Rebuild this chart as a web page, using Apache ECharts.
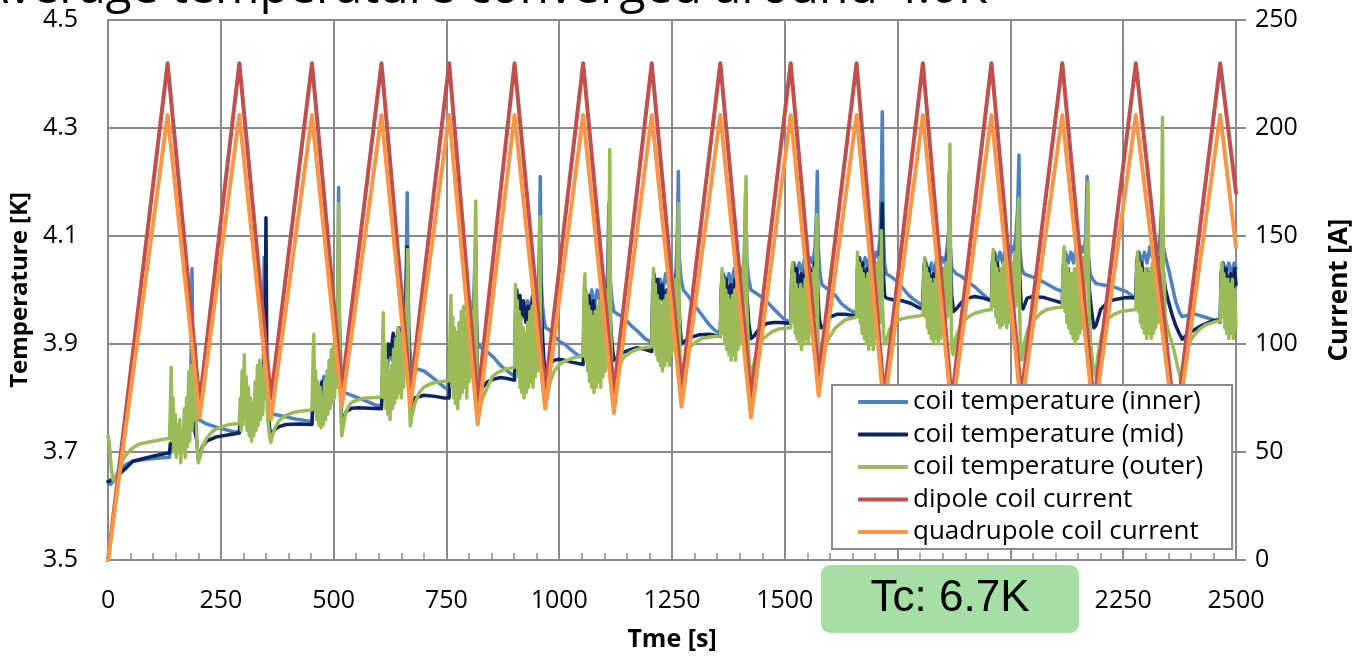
<!DOCTYPE html>
<html>
<head>
<meta charset="utf-8">
<script src="https://cdn.jsdelivr.net/npm/echarts@6/dist/echarts.min.js"></script>
<style>
html,body{margin:0;padding:0;background:#fff;}
#chart{width:1361px;height:657px;}
</style>
</head>
<body>
<div id="chart"></div>
<script>
// ---- axes ----
const timeMin = 0, timeMax = 2500, timeStep = 250;
const tempMin = 3.5, tempMax = 4.5;
const currMin = 0, currMax = 250, currStep = 50;

const seriesNames = ['coil temperature (inner)','coil temperature (mid)','coil temperature (outer)','dipole coil current','quadrupole coil current'];

// ---- temperatures [time s, K] ----
const innerTemp = [
[0,3.645],[5,3.64],[11,3.645],[26,3.668],[42,3.678],[55,3.683],[90,3.687],[126,3.69],[136,3.69],
[138,3.70],[145,3.71],[150,3.70],[158,3.72],[165,3.71],[172,3.73],[178,3.76],[183,3.80],[186,4.04],[189,3.82],[193,3.90],[197,3.80],[201,3.76],
[205,3.757],[218,3.752],[240,3.746],[275,3.738],[291,3.737],
[295,3.77],[300,3.76],[305,3.78],[310,3.77],[316,3.79],[322,3.78],[328,3.80],[334,3.79],[340,3.82],[344,3.84],[346,4.06],[348,3.86],[352,3.83],[356,3.79],[361,3.775],
[365,3.77],[379,3.768],[394,3.765],[410,3.762],[423,3.760],[440,3.758],[452,3.757],
[455,3.80],[460,3.79],[466,3.82],[472,3.80],[478,3.84],[484,3.82],[490,3.85],[496,3.83],[502,3.86],[506,3.88],[509,3.95],[511,4.19],[513,3.95],[516,3.86],[520,3.81],
[525,3.81],[540,3.805],[555,3.80],[570,3.795],[593,3.787],[606,3.785],
[609,3.84],[613,3.86],[618,3.85],[624,3.89],[630,3.87],[636,3.91],[642,3.90],[648,3.93],[653,3.92],[658,3.96],[661,4.05],[663,4.18],[665,4.00],[668,3.90],[672,3.86],
[680,3.855],[700,3.85],[716,3.84],[731,3.83],[745,3.82],[756,3.815],
[759,3.87],[764,3.90],[770,3.88],[776,3.92],[782,3.90],[788,3.93],[794,3.91],[800,3.95],[806,3.93],[810,3.97],[813,4.05],[816,3.95],[819,3.90],
[824,3.895],[841,3.885],[855,3.875],[870,3.86],[885,3.85],[901,3.84],
[903,3.93],[907,3.96],[912,3.94],[918,3.97],[924,3.95],[930,3.98],[936,3.96],[942,3.98],[948,3.97],[953,4.0],[956,4.08],[958,4.21],[960,4.02],[963,3.97],[967,3.94],[970,3.93],
[980,3.925],[989,3.915],[1000,3.905],[1011,3.90],[1025,3.89],[1040,3.88],[1053,3.875],
[1056,3.96],[1060,3.99],[1066,3.97],[1072,4.0],[1078,3.97],[1084,4.0],[1090,3.98],[1096,4.01],[1102,3.99],[1107,4.03],[1110,4.16],[1113,4.02],[1117,3.98],[1121,3.96],
[1130,3.955],[1143,3.95],[1158,3.935],[1172,3.925],[1190,3.91],[1205,3.903],
[1208,4.0],[1212,4.02],[1218,4.0],[1224,4.02],[1230,4.0],[1236,4.03],[1242,4.01],[1248,4.02],[1254,4.0],[1259,4.04],[1262,4.12],[1264,4.22],[1266,4.06],[1270,4.02],[1275,4.0],
[1285,3.99],[1297,3.975],[1315,3.955],[1333,3.935],[1345,3.925],[1357,3.92],
[1360,4.0],[1364,4.03],[1370,4.01],[1376,4.03],[1382,4.01],[1388,4.04],[1394,4.02],[1400,4.04],[1406,4.03],[1410,4.06],[1413,4.18],[1416,4.05],[1420,4.02],[1425,4.0],
[1435,3.995],[1452,3.985],[1470,3.97],[1487,3.955],[1500,3.945],[1513,3.94],
[1516,4.02],[1520,4.05],[1526,4.03],[1532,4.05],[1538,4.03],[1544,4.06],[1550,4.04],[1556,4.06],[1562,4.05],[1567,4.08],[1570,4.14],[1572,4.22],[1574,4.08],[1578,4.03],[1582,4.01],
[1597,4.0],[1612,3.99],[1625,3.975],[1640,3.965],[1650,3.96],[1659,3.958],
[1662,4.04],[1666,4.06],[1672,4.04],[1678,4.06],[1684,4.04],[1690,4.07],[1696,4.05],[1702,4.07],[1707,4.06],[1711,4.10],[1714,4.20],[1716,4.33],[1718,4.12],[1721,4.05],[1725,4.03],
[1735,4.025],[1750,4.015],[1760,4.005],[1775,3.99],[1785,3.983],[1795,3.977],[1806,3.972],
[1809,4.04],[1813,4.05],[1819,4.03],[1825,4.05],[1831,4.03],[1837,4.06],[1843,4.04],[1849,4.06],[1855,4.05],[1860,4.08],[1864,4.12],[1867,4.08],[1870,4.04],
[1880,4.03],[1892,4.025],[1905,4.015],[1921,4.006],[1935,3.995],[1949,3.985],[1958,3.98],
[1961,4.05],[1965,4.07],[1971,4.05],[1977,4.07],[1983,4.05],[1989,4.08],[1995,4.06],[2001,4.08],[2007,4.07],[2012,4.10],[2016,4.15],[2019,4.25],[2021,4.08],[2025,4.04],[2030,4.03],
[2046,4.025],[2060,4.02],[2075,4.014],[2090,4.007],[2103,4.001],[2115,3.997],
[2118,4.05],[2122,4.07],[2128,4.05],[2134,4.07],[2140,4.05],[2146,4.08],[2152,4.06],[2158,4.08],[2163,4.07],[2167,4.10],[2170,4.21],[2173,4.06],[2177,4.03],[2182,4.02],[2190,4.012],
[2200,4.01],[2229,4.006],[2257,3.997],[2272,3.988],[2278,3.985],
[2281,4.05],[2285,4.07],[2291,4.05],[2297,4.07],[2303,4.05],[2309,4.08],[2315,4.06],[2321,4.08],[2327,4.07],[2332,4.10],[2336,4.17],[2339,4.08],[2344,4.06],[2350,4.04],[2358,4.01],[2366,3.98],[2374,3.96],[2380,3.951],
[2395,3.953],[2412,3.955],[2430,3.95],[2449,3.945],[2465,3.94],
[2468,4.02],[2472,4.05],[2478,4.03],[2484,4.05],[2490,4.03],[2496,4.05],[2500,4.04]
];

const midTemp = [
[0,3.645],[11,3.65],[26,3.66],[42,3.672],[55,3.683],[99,3.692],[126,3.697],[136,3.698],
[138,3.715],[145,3.72],[152,3.705],[160,3.73],[168,3.715],[175,3.74],[182,3.75],[188,3.78],[192,3.74],[197,3.72],[200,3.685],
[203,3.69],[209,3.71],[218,3.72],[240,3.728],[275,3.733],[291,3.735],
[293,3.765],[298,3.775],[304,3.765],[310,3.78],[316,3.77],[322,3.79],[328,3.785],[334,3.80],[340,3.81],[345,3.83],[348,3.90],[350,4.134],[352,3.85],[355,3.78],[358,3.745],[361,3.728],
[364,3.735],[370,3.742],[379,3.747],[394,3.751],[423,3.752],[452,3.751],
[454,3.80],[458,3.79],[463,3.82],[468,3.80],[474,3.83],[480,3.81],[486,3.84],[492,3.82],[498,3.85],[504,3.83],[508,3.87],[511,3.95],[513,3.88],[516,3.80],[518,3.75],
[521,3.76],[528,3.775],[540,3.781],[555,3.782],[580,3.781],[606,3.78],
[608,3.83],[612,3.87],[616,3.85],[621,3.90],[626,3.88],[632,3.92],[638,3.89],[644,3.93],[650,3.90],[656,3.94],[660,3.97],[663,4.08],[665,3.95],[668,3.84],[670,3.78],
[673,3.79],[680,3.80],[700,3.805],[725,3.803],[745,3.80],[756,3.80],
[758,3.86],[762,3.90],[767,3.88],[772,3.92],[778,3.89],[784,3.93],[790,3.90],[796,3.94],[802,3.91],[808,3.95],[812,3.98],[815,4.09],[817,3.92],[819,3.80],
[822,3.805],[830,3.82],[841,3.83],[855,3.835],[870,3.838],[885,3.836],[901,3.833],
[903,3.95],[906,4.0],[909,3.96],[913,3.99],[917,3.95],[921,3.98],[926,3.94],[931,3.97],[936,3.95],[941,3.99],[946,3.96],[951,3.98],[955,4.0],[958,4.075],[960,3.97],[964,3.90],[967,3.86],[970,3.855],
[980,3.865],[989,3.87],[1000,3.872],[1011,3.87],[1030,3.866],[1053,3.862],
[1055,3.97],[1058,4.0],[1062,3.96],[1066,3.99],[1071,3.95],[1076,3.98],[1081,3.94],[1086,3.97],[1091,3.95],[1096,3.99],[1101,3.96],[1106,3.99],[1110,4.02],[1113,3.95],[1117,3.90],[1121,3.87],
[1128,3.875],[1143,3.885],[1160,3.89],[1172,3.893],[1190,3.89],[1205,3.886],
[1207,3.99],[1210,4.03],[1214,3.99],[1218,4.02],[1223,3.98],[1228,4.01],[1233,3.97],[1238,4.0],[1243,3.98],[1248,4.01],[1253,3.99],[1258,4.02],[1262,4.04],[1265,3.98],[1268,3.93],[1271,3.90],
[1278,3.905],[1290,3.912],[1310,3.917],[1333,3.918],[1357,3.914],
[1359,4.0],[1362,4.03],[1366,3.99],[1370,4.02],[1375,3.98],[1380,4.01],[1385,3.98],[1390,4.02],[1395,3.99],[1400,4.02],[1405,4.0],[1410,4.03],[1413,4.075],[1416,3.99],[1420,3.94],[1425,3.91],
[1432,3.915],[1445,3.93],[1460,3.938],[1475,3.94],[1490,3.94],[1513,3.938],
[1515,4.02],[1518,4.05],[1522,4.01],[1526,4.04],[1531,4.0],[1536,4.03],[1541,4.0],[1546,4.04],[1551,4.01],[1556,4.04],[1561,4.02],[1566,4.05],[1570,4.06],[1573,4.0],[1576,3.95],[1580,3.93],
[1590,3.935],[1600,3.95],[1615,3.955],[1634,3.955],[1659,3.952],
[1661,4.04],[1664,4.06],[1668,4.02],[1672,4.05],[1677,4.01],[1682,4.04],[1687,4.0],[1692,4.04],[1697,4.01],[1702,4.05],[1707,4.02],[1711,4.06],[1714,4.10],[1716,4.16],[1718,4.04],[1721,3.99],[1725,3.985],
[1740,3.982],[1760,3.98],[1780,3.975],[1795,3.968],[1806,3.965],
[1808,4.04],[1811,4.056],[1815,4.01],[1819,4.04],[1824,4.0],[1829,4.03],[1834,3.99],[1839,4.03],[1844,4.0],[1849,4.04],[1854,4.01],[1859,4.05],[1863,4.08],[1865,4.22],[1867,4.06],[1870,3.99],[1874,3.96],
[1880,3.965],[1892,3.977],[1905,3.985],[1921,3.988],[1940,3.985],[1958,3.98],
[1960,4.05],[1963,4.07],[1967,4.02],[1971,4.05],[1976,4.01],[1981,4.04],[1986,4.0],[1991,4.04],[1996,4.01],[2001,4.05],[2006,4.02],[2011,4.06],[2015,4.08],[2018,4.10],[2021,4.02],[2024,3.97],[2028,3.965],
[2037,3.985],[2050,3.988],[2075,3.986],[2103,3.979],[2115,3.976],
[2117,4.04],[2120,4.056],[2124,4.01],[2128,4.04],[2133,4.0],[2138,4.03],[2143,3.99],[2148,4.03],[2153,4.0],[2158,4.04],[2163,4.01],[2168,4.05],[2172,4.08],[2175,4.0],[2180,3.96],[2185,3.93],[2190,3.935],
[2200,3.964],[2214,3.976],[2229,3.982],[2257,3.986],[2278,3.985],
[2280,4.05],[2283,4.07],[2287,4.02],[2291,4.05],[2296,4.01],[2301,4.04],[2306,4.0],[2311,4.04],[2316,4.01],[2321,4.05],[2326,4.02],[2331,4.05],[2335,4.07],[2339,4.03],[2344,4.0],[2350,3.98],[2358,3.955],[2366,3.935],[2374,3.92],[2381,3.909],
[2395,3.92],[2421,3.933],[2445,3.942],[2465,3.946],
[2467,4.03],[2470,4.05],[2474,4.0],[2478,4.04],[2483,3.99],[2488,4.03],[2493,3.99],[2497,4.04],[2500,4.01]
];

const outerTemp = [
[0,3.73],[3,3.715],[7,3.67],[11,3.648],[18,3.655],[26,3.67],[34,3.687],[42,3.697],[55,3.708],[70,3.715],[99,3.72],[126,3.724],[136,3.725],
[138,3.78],[140,3.857],[142,3.72],[144,3.80],[146,3.70],[149,3.77],[151,3.69],[154,3.75],[156,3.70],[159,3.76],[161,3.68],[164,3.74],[166,3.70],[169,3.78],[171,3.69],[174,3.80],[176,3.71],[179,3.85],[181,3.72],[184,3.86],[186,3.74],[189,3.84],[191,3.76],[194,3.82],[197,3.72],[200,3.68],
[203,3.69],[210,3.71],[218,3.725],[230,3.737],[240,3.743],[260,3.749],[275,3.752],[291,3.753],
[293,3.80],[295,3.74],[297,3.85],[299,3.75],[302,3.88],[304,3.76],[306,3.84],[308,3.74],[311,3.82],[313,3.73],[316,3.80],[318,3.72],[321,3.79],[323,3.73],[326,3.83],[328,3.74],[331,3.86],[333,3.75],[336,3.87],[338,3.76],[341,3.85],[343,3.77],[346,3.86],[348,3.80],[351,3.83],[354,3.76],[358,3.73],[361,3.718],
[364,3.73],[370,3.745],[379,3.758],[394,3.768],[410,3.773],[423,3.775],[440,3.777],[452,3.778],
[454,3.86],[456,3.918],[458,3.78],[460,3.85],[462,3.76],[465,3.83],[467,3.75],[470,3.82],[472,3.745],[475,3.80],[477,3.75],[480,3.83],[482,3.76],[485,3.85],[487,3.77],[490,3.87],[492,3.78],[495,3.89],[497,3.79],[500,3.90],[502,3.80],[505,3.88],[507,3.82],[509,3.95],[511,4.16],[513,3.90],[515,3.80],[518,3.73],
[521,3.745],[526,3.77],[533,3.785],[540,3.792],[555,3.797],[570,3.80],[593,3.801],[606,3.802],
[608,3.88],[610,3.958],[612,3.80],[614,3.90],[616,3.78],[618,3.87],[620,3.77],[623,3.85],[625,3.76],[628,3.86],[630,3.78],[633,3.89],[635,3.79],[638,3.91],[640,3.80],[643,3.93],[645,3.81],[648,3.92],[650,3.80],[653,3.90],[655,3.82],[658,3.93],[660,3.85],[662,3.98],[664,4.075],[666,3.88],[668,3.79],[670,3.748],
[673,3.765],[680,3.79],[690,3.81],[700,3.82],[716,3.827],[735,3.83],[756,3.832],
[758,3.92],[760,3.99],[762,3.82],[764,3.95],[766,3.80],[768,3.93],[770,3.79],[773,3.92],[775,3.78],[778,3.94],[780,3.80],[783,3.96],[785,3.81],[788,3.97],[790,3.82],[793,3.95],[795,3.80],[798,3.97],[800,3.83],[803,3.98],[805,3.84],[808,3.96],[810,3.86],[812,4.00],[815,4.165],[817,3.90],[819,3.751],
[822,3.77],[830,3.80],[841,3.82],[852,3.84],[863,3.847],[880,3.853],[901,3.857],
[903,4.01],[905,3.86],[907,3.98],[909,3.84],[911,3.96],[913,3.82],[915,3.95],[917,3.81],[920,3.93],[922,3.80],[925,3.92],[927,3.81],[930,3.94],[932,3.82],[935,3.96],[937,3.83],[940,3.97],[942,3.82],[945,3.99],[947,3.84],[950,3.98],[952,3.85],[955,4.0],[957,4.136],[959,3.92],[962,3.84],[966,3.80],[969,3.783],
[973,3.80],[980,3.83],[989,3.85],[1000,3.862],[1011,3.868],[1030,3.874],[1046,3.877],[1053,3.878],
[1055,4.0],[1057,4.03],[1059,3.87],[1061,3.99],[1063,3.85],[1065,3.97],[1067,3.83],[1070,3.96],[1072,3.82],[1075,3.95],[1077,3.81],[1080,3.96],[1082,3.82],[1085,3.97],[1087,3.83],[1090,3.98],[1092,3.82],[1095,3.99],[1097,3.84],[1100,3.98],[1102,3.85],[1105,4.0],[1107,3.86],[1110,4.05],[1112,4.26],[1114,3.93],[1117,3.85],[1121,3.807],
[1125,3.83],[1133,3.86],[1143,3.875],[1158,3.885],[1172,3.89],[1190,3.893],[1205,3.895],
[1207,4.0],[1209,4.04],[1211,3.90],[1213,4.01],[1215,3.88],[1217,3.99],[1219,3.87],[1222,3.98],[1224,3.86],[1227,3.97],[1229,3.85],[1232,3.98],[1234,3.86],[1237,3.99],[1239,3.87],[1242,4.0],[1244,3.86],[1247,3.99],[1249,3.88],[1252,4.01],[1254,3.89],[1257,4.02],[1259,3.90],[1262,4.06],[1264,4.16],[1266,3.95],[1268,3.88],[1271,3.835],
[1275,3.86],[1285,3.89],[1297,3.90],[1315,3.91],[1333,3.913],[1357,3.915],
[1359,4.0],[1361,4.04],[1363,3.92],[1365,4.02],[1367,3.90],[1369,4.0],[1371,3.89],[1374,3.99],[1376,3.88],[1379,3.98],[1381,3.87],[1384,3.99],[1386,3.88],[1389,4.0],[1391,3.87],[1394,4.01],[1396,3.89],[1399,4.0],[1401,3.90],[1404,4.02],[1406,3.91],[1409,4.04],[1411,4.08],[1414,4.21],[1416,3.97],[1419,3.90],[1422,3.85],[1425,3.835],
[1430,3.86],[1440,3.89],[1452,3.91],[1470,3.922],[1487,3.928],[1513,3.93],
[1515,4.02],[1517,4.05],[1519,3.94],[1521,4.03],[1523,3.92],[1525,4.01],[1527,3.91],[1530,4.0],[1532,3.90],[1535,4.01],[1537,3.89],[1540,4.0],[1542,3.90],[1545,4.02],[1547,3.91],[1550,4.01],[1552,3.90],[1555,4.02],[1557,3.92],[1560,4.03],[1562,3.93],[1565,4.04],[1567,3.95],[1569,4.06],[1571,4.14],[1573,3.95],[1575,3.86],[1578,3.835],
[1582,3.86],[1590,3.895],[1597,3.91],[1612,3.93],[1634,3.945],[1659,3.95],
[1661,4.07],[1663,3.96],[1665,4.05],[1667,3.94],[1669,4.04],[1671,3.92],[1674,4.03],[1676,3.91],[1679,4.02],[1681,3.90],[1684,4.03],[1686,3.89],[1689,4.04],[1691,3.90],[1694,4.03],[1696,3.89],[1699,4.04],[1701,3.91],[1704,4.05],[1706,3.92],[1709,4.06],[1711,3.94],[1714,4.11],[1716,3.98],[1719,3.92],[1721,3.90],
[1725,3.905],[1732,3.927],[1745,3.942],[1760,3.947],[1780,3.95],[1806,3.953],
[1808,4.03],[1810,4.06],[1812,3.95],[1814,4.04],[1816,3.93],[1818,4.03],[1820,3.92],[1823,4.02],[1825,3.91],[1828,4.01],[1830,3.90],[1833,4.02],[1835,3.91],[1838,4.03],[1840,3.90],[1843,4.02],[1845,3.91],[1848,4.03],[1850,3.92],[1853,4.04],[1855,3.93],[1858,4.05],[1860,3.95],[1863,4.09],[1866,4.27],[1868,3.98],[1870,3.89],[1873,3.88],
[1878,3.91],[1890,3.935],[1905,3.949],[1921,3.957],[1943,3.962],[1958,3.964],
[1960,4.04],[1962,4.075],[1964,3.97],[1966,4.05],[1968,3.95],[1970,4.04],[1972,3.94],[1975,4.03],[1977,3.93],[1980,4.04],[1982,3.935],[1985,4.05],[1987,3.94],[1990,4.04],[1992,3.93],[1995,4.05],[1997,3.94],[2000,4.06],[2002,3.95],[2005,4.05],[2007,3.96],[2010,4.07],[2012,3.97],[2015,4.09],[2018,4.17],[2020,3.99],[2022,3.90],[2025,3.87],
[2030,3.90],[2040,3.93],[2053,3.945],[2067,3.957],[2081,3.964],[2100,3.967],[2115,3.968],
[2117,4.05],[2119,4.08],[2121,3.96],[2123,4.05],[2125,3.94],[2127,4.04],[2129,3.93],[2132,4.03],[2134,3.92],[2137,4.03],[2139,3.91],[2142,4.04],[2144,3.90],[2147,4.04],[2149,3.91],[2152,4.05],[2154,3.92],[2157,4.05],[2159,3.93],[2162,4.06],[2164,3.94],[2167,4.08],[2170,4.13],[2172,4.20],[2174,3.97],[2178,3.90],[2183,3.86],[2189,3.84],
[2194,3.88],[2203,3.92],[2214,3.945],[2229,3.955],[2244,3.96],[2278,3.964],
[2280,4.04],[2282,4.07],[2284,3.96],[2286,4.05],[2288,3.94],[2290,4.04],[2292,3.93],[2295,4.03],[2297,3.92],[2300,4.04],[2302,3.91],[2305,4.03],[2307,3.92],[2310,4.04],[2312,3.91],[2315,4.05],[2317,3.92],[2320,4.05],[2322,3.93],[2325,4.06],[2327,3.94],[2330,4.05],[2332,3.95],[2335,4.10],[2337,4.32],[2339,3.99],[2341,4.03],[2343,3.95],[2348,3.93],[2355,3.91],[2362,3.89],[2370,3.86],[2379,3.83],
[2385,3.87],[2395,3.90],[2405,3.914],[2420,3.928],[2434,3.936],[2456,3.942],[2465,3.943],
[2467,4.02],[2469,4.05],[2471,3.95],[2473,4.03],[2475,3.93],[2477,4.02],[2479,3.92],[2482,4.02],[2484,3.91],[2487,4.01],[2489,3.92],[2492,4.02],[2494,3.91],[2497,4.0],[2500,3.93]
];

// ---- currents [time s, A] ----
const dipoleCurrent = [
[0,0],[132,230],[203,73],[291,230],[361,75],[452,230],[518,79],[606,230],[670,77],[756,230],[819,74],[901,230],[969,79],[1053,230],[1121,78],[1205,230],[1271,80],[1357,230],[1425,75],[1513,230],[1575,85],[1659,230],[1720,76],[1806,230],[1870,74],[1958,230],[2024,76],[2115,230],[2185,72],[2278,230],[2366,62],[2465,230],[2500,170]
];
const quadCurrent = [
[0,0],[132,206],[203,66],[291,206],[361,65],[452,206],[518,71],[606,206],[670,71],[756,206],[819,63],[901,206],[969,70],[1053,206],[1121,68],[1205,206],[1271,71],[1357,206],[1425,66],[1513,206],[1575,76],[1659,206],[1720,70],[1806,206],[1870,68],[1958,206],[2024,70],[2115,206],[2185,65],[2278,206],[2366,56],[2465,206],[2500,145]
];

const colors = ['#4F81BD','#0C2461','#9BBB59','#C0504D','#F79646'];
const gridColor = '#898989';
const font = 'Open Sans';

const chart = echarts.init(document.getElementById('chart'), null, {renderer:'canvas'});

function lineSeries(name, data, color, yIndex, width){
  return {
    name, type:'line', data, yAxisIndex:yIndex, showSymbol:false, symbol:'none',
    sampling:false, animation:false, z: 2,
    lineStyle:{color, width, cap:'round', join:'round'},
    itemStyle:{color}
  };
}

const option = {
  animation:false,
  color: colors,
  grid:{left:108, right:118, top:20, bottom:96, containLabel:false},
  xAxis:{
    type:'value', min:timeMin, max:timeMax, interval:timeStep,
    name:'Tme [s]', nameLocation:'middle', nameGap:67,
    nameTextStyle:{fontFamily:font, fontWeight:'bold', fontSize:25, color:'#000'},
    axisLine:{show:true, lineStyle:{color:gridColor, width:2}},
    axisTick:{show:true, inside:true, length:7, lineStyle:{color:gridColor, width:2}},
    minorTick:{show:true, splitNumber:5, length:7, lineStyle:{color:gridColor, width:1.5}},
    axisLabel:{fontFamily:font, fontSize:25, color:'#000', margin:28, formatter:function(v){ return String(v); }},
    splitLine:{show:true, lineStyle:{color:gridColor, width:2}}
  },
  yAxis:[
    {
      type:'value', min:tempMin, max:tempMax, interval:0.1,
      name:'Temperature [K]', nameLocation:'middle', nameGap:52,
      nameTextStyle:{fontFamily:font, fontWeight:'bold', fontSize:24, color:'#000'},
      axisLine:{show:true, lineStyle:{color:gridColor, width:2}},
      axisTick:{show:false},
      axisLabel:{fontFamily:font, fontSize:25, color:'#000', margin:30,
        formatter:function(v){ const k=Math.round(v*10); return (k%2===1)? (k/10).toFixed(1) : ''; }},
      splitLine:{show:false}
    },
    {
      type:'value', min:currMin, max:currMax, interval:currStep, position:'right',
      name:'Current [A]', nameLocation:'middle', nameGap:91,
      nameTextStyle:{fontFamily:font, fontWeight:'bold', fontSize:26, color:'#000'},
      axisLine:{show:true, lineStyle:{color:gridColor, width:2}},
      axisTick:{show:true, inside:false, length:10, lineStyle:{color:gridColor, width:2}},
      axisLabel:{fontFamily:font, fontSize:25, color:'#000', margin:19},
      splitLine:{show:true, lineStyle:{color:gridColor, width:2}}
    }
  ],
  legend:{
    data: seriesNames,
    orient:'vertical', left:832, top:385,
    itemWidth:50, itemHeight:4, itemGap:6.5, icon:'roundRect',
    padding:[4,29,4,26],
    backgroundColor:'#fff', borderColor:gridColor, borderWidth:2, borderRadius:0,
    textStyle:{fontFamily:font, fontSize:26, color:'#000', lineHeight:26},
    selectedMode:false, z:10
  },
  graphic:[
    {type:'text', x:-22, y:13, z:100, silent:true,
     style:{text:'Average temperature converged around 4.0K', font:'48px "Open Sans"', fill:'#000', textAlign:'left', textVerticalAlign:'bottom'}},
    {type:'rect', x:821, y:565, z:100, silent:true, shape:{x:0,y:0,width:258,height:68,r:9}, style:{fill:'#A5DFA5'}},
    {type:'text', x:950, y:599, z:101, silent:true,
     style:{text:'Tc: 6.7K', font:'44px "Liberation Sans"', fill:'#000', textAlign:'center', textVerticalAlign:'middle'}}
  ],
  series:[
    lineSeries(seriesNames[0], innerTemp, colors[0], 0, 3.5),
    lineSeries(seriesNames[1], midTemp, colors[1], 0, 3.5),
    lineSeries(seriesNames[2], outerTemp, colors[2], 0, 3.5),
    lineSeries(seriesNames[3], dipoleCurrent, colors[3], 1, 4),
    lineSeries(seriesNames[4], quadCurrent, colors[4], 1, 4)
  ]
};
chart.setOption(option);
</script>
</body>
</html>
